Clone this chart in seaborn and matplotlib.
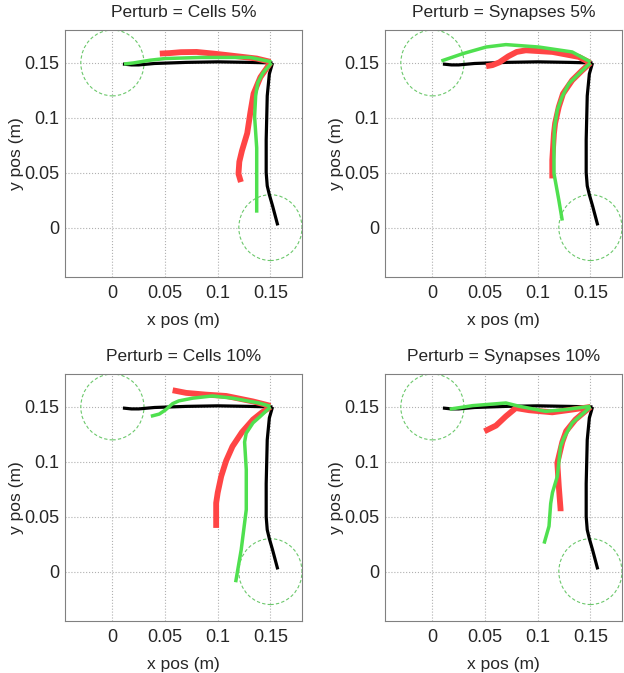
import matplotlib
matplotlib.use("Agg")
from matplotlib import pyplot as plt
from matplotlib.patches import Circle
import pandas as pd
import seaborn as sns

titles = ["Perturb = Cells 5%", "Perturb = Synapses 5%",
          "Perturb = Cells 10%", "Perturb = Synapses 10%"]

target_x = [0.0, 0.15]
target_y = [0.15, 0.0]
target_r = 0.03

tick_vals = [0, 0.05, 0.1, 0.15]
tick_labels = ["0", "0.05", "0.1", "0.15"]

# baseline (black), same in every panel
base_left = [(0.152, 0.150), (0.13, 0.1505), (0.10, 0.151), (0.07, 0.1505),
             (0.04, 0.1495), (0.025, 0.1482), (0.018, 0.1482), (0.01, 0.149)]
base_down = [(0.152, 0.150), (0.149, 0.140), (0.147, 0.120), (0.146, 0.080),
             (0.146, 0.050), (0.147, 0.038), (0.149, 0.030), (0.152, 0.020),
             (0.157, 0.002)]

# Cells 5%
c5_red_left = [(0.150, 0.151), (0.137, 0.154), (0.110, 0.157), (0.096, 0.1585),
               (0.080, 0.1600), (0.065, 0.1598), (0.055, 0.159), (0.045, 0.1585)]
c5_red_down = [(0.150, 0.150), (0.1405, 0.137), (0.134, 0.122), (0.131, 0.105),
               (0.128, 0.086), (0.123, 0.070), (0.1205, 0.060), (0.1197, 0.049),
               (0.122, 0.0415)]
c5_green_left = [(0.151, 0.151), (0.131, 0.155), (0.084, 0.155), (0.050, 0.154),
                 (0.036, 0.1525), (0.020, 0.150), (0.011, 0.149)]
c5_green_down = [(0.151, 0.150), (0.143, 0.141), (0.138, 0.132), (0.136, 0.120),
                 (0.135, 0.101), (0.137, 0.0726), (0.137, 0.0136)]

# Synapses 5%
s5_red_left = [(0.150, 0.150), (0.139, 0.1555), (0.114, 0.160), (0.0887, 0.1615),
               (0.080, 0.160), (0.072, 0.156), (0.0635, 0.1505), (0.057, 0.148),
               (0.051, 0.147)]
s5_red_down = [(0.150, 0.150), (0.142, 0.143), (0.1327, 0.1342), (0.124, 0.122),
               (0.120, 0.110), (0.1165, 0.095), (0.1154, 0.0858), (0.1138, 0.0615),
               (0.1138, 0.0448)]
s5_green_left = [(0.150, 0.151), (0.1327, 0.160), (0.101, 0.1645), (0.0698, 0.1667),
                 (0.051, 0.1645), (0.029, 0.1585), (0.0085, 0.1518)]
s5_green_down = [(0.150, 0.150), (0.140, 0.141), (0.1296, 0.1312), (0.123, 0.119),
                 (0.1186, 0.107), (0.1160, 0.092), (0.1154, 0.0797), (0.1154, 0.0494),
                 (0.120, 0.0252), (0.1233, 0.0064)]

# Cells 10%
c10_red_left = [(0.150, 0.151), (0.1335, 0.155), (0.108, 0.160), (0.089, 0.1612),
                (0.070, 0.1628), (0.0572, 0.1652)]
c10_red_down = [(0.150, 0.150), (0.142, 0.145), (0.1335, 0.1385), (0.123, 0.127),
                (0.114, 0.114), (0.108, 0.101), (0.1033, 0.0868), (0.100, 0.072),
                (0.0985, 0.0625), (0.0985, 0.0398)]
c10_green_left = [(0.150, 0.1506), (0.139, 0.1536), (0.114, 0.158), (0.095, 0.160),
                  (0.0763, 0.158), (0.063, 0.1555), (0.0572, 0.1530), (0.050, 0.147),
                  (0.0445, 0.1435), (0.0365, 0.1415)]
c10_green_down = [(0.150, 0.150), (0.140, 0.141), (0.1335, 0.1355), (0.127, 0.126),
                  (0.1255, 0.118), (0.1271, 0.0929), (0.1271, 0.0565), (0.1223, 0.020),
                  (0.117, -0.0097)]

# Synapses 10%
s10_red_left = [(0.150, 0.150), (0.1327, 0.1476), (0.1138, 0.1451), (0.0918, 0.147),
                (0.0792, 0.149), (0.0698, 0.1415), (0.0604, 0.133), (0.0494, 0.1278)]
s10_red_down = [(0.150, 0.150), (0.1358, 0.1385), (0.127, 0.128), (0.1233, 0.118),
                (0.1186, 0.099), (0.120, 0.0777), (0.1217, 0.0565), (0.1217, 0.055)]
s10_green_left = [(0.150, 0.1506), (0.1264, 0.1476), (0.1075, 0.146), (0.0824, 0.1506),
                  (0.0698, 0.1536), (0.0384, 0.1512), (0.0164, 0.148)]
s10_green_down = [(0.150, 0.150), (0.1327, 0.1354), (0.125, 0.122), (0.1217, 0.1142),
                  (0.1186, 0.0868), (0.114, 0.072), (0.1123, 0.0620), (0.1107, 0.0413),
                  (0.106, 0.0255)]

panels = [
    (c5_red_left, c5_red_down, c5_green_left, c5_green_down),
    (s5_red_left, s5_red_down, s5_green_left, s5_green_down),
    (c10_red_left, c10_red_down, c10_green_left, c10_green_down),
    (s10_red_left, s10_red_down, s10_green_left, s10_green_down),
]


def to_df(pts, reach):
    df = pd.DataFrame(pts, columns=["x", "y"])
    df["reach"] = reach
    return df


sns.set_style("white")
plt.rcParams["font.family"] = ["Liberation Sans", "DejaVu Sans"]

fig = plt.figure(figsize=(6.24, 6.73), dpi=100)
positions = [
    [65 / 624, 396 / 673, 237 / 624, 247 / 673],
    [385 / 624, 396 / 673, 237 / 624, 247 / 673],
    [65 / 624, 52 / 673, 237 / 624, 247 / 673],
    [385 / 624, 52 / 673, 237 / 624, 247 / 673],
]

styles = [("#000000", 2.3), ("#ff4545", 4.2), ("#4fe04f", 2.5)]

for i, (title, traces) in enumerate(zip(titles, panels)):
    ax = fig.add_axes(positions[i])
    red_l, red_d, green_l, green_d = traces
    groups = [(base_left, base_down), (red_l, red_d), (green_l, green_d)]
    for (left, down), (color, lw) in zip(groups, styles):
        df = pd.concat([to_df(left, "left"), to_df(down, "down")])
        sns.lineplot(data=df, x="x", y="y", units="reach", estimator=None,
                     sort=False, color=color, linewidth=lw, ax=ax,
                     solid_capstyle="butt", solid_joinstyle="round")
    for cx, cy in zip(target_x, target_y):
        ax.add_patch(Circle((cx, cy), target_r, fill=False, edgecolor="#6cc86c",
                            linewidth=0.8, linestyle=(0, (3, 2))))
    ax.set_xlim(-0.045, 0.18)
    ax.set_ylim(-0.045, 0.18)
    ax.set_xticks(tick_vals)
    ax.set_xticklabels(tick_labels)
    ax.set_yticks(tick_vals)
    ax.set_yticklabels(tick_labels)
    ax.grid(True, linestyle=":", color="#b0b0b0", linewidth=0.8)
    ax.set_axisbelow(True)
    ax.tick_params(labelsize=13, direction="in", length=3, color="#808080")
    ax.tick_params(axis="x", pad=6)
    ax.tick_params(axis="y", pad=4)
    for s in ax.spines.values():
        s.set_color("#808080")
        s.set_linewidth(0.8)
    ax.set_xlabel("x pos (m)", fontsize=12.5, labelpad=8)
    ax.set_ylabel("y pos (m)", fontsize=12.5, labelpad=0)
    ax.set_title(title, fontsize=12.5, pad=9.5)

fig.savefig("out.png", dpi=100)
